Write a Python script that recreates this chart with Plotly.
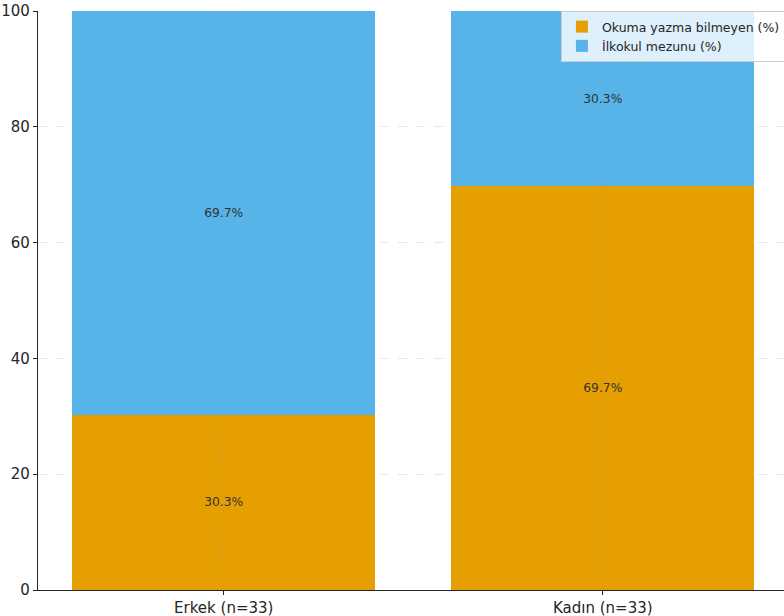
import plotly.graph_objects as go

categories = ["Erkek (n=33)", "Kadın (n=33)"]
illiterate = [30.3, 69.7]
primary = [69.7, 30.3]
series_names = ["Okuma yazma bilmeyen (%)", "İlkokul mezunu (%)"]
y_ticks = [0, 20, 40, 60, 80, 100]

FONT = "DejaVu Sans"
fig = go.Figure()
fig.add_trace(go.Bar(
    x=[0, 1], y=illiterate, name=series_names[0], marker=dict(color="#E69F00", line=dict(width=0)),
    text=[f"{v:.1f}%" for v in illiterate], textposition="inside", insidetextanchor="middle",
    textangle=0, textfont=dict(color="#333333", size=12.3, family=FONT), width=0.8,
))
fig.add_trace(go.Bar(
    x=[0, 1], y=primary, name=series_names[1], marker=dict(color="#56B4E9", line=dict(width=0)),
    text=[f"{v:.1f}%" for v in primary], textposition="inside", insidetextanchor="middle",
    textangle=0, textfont=dict(color="#333333", size=12.3, family=FONT), width=0.8,
))

# vertical category gridlines drawn over the bars
for xv in [0, 1]:
    fig.add_shape(type="line", xref="x", yref="paper", x0=xv, x1=xv, y0=0, y1=1,
                  line=dict(color="rgba(150,150,150,0.35)", width=1, dash="dot"), layer="above")

fig.update_layout(
    barmode="stack",
    width=784, height=616,
    margin=dict(l=38, r=0, t=11, b=26, autoexpand=False),
    paper_bgcolor="white", plot_bgcolor="white",
    font=dict(family=FONT, size=14, color="#262626"),
    showlegend=True,
    legend=dict(
        x=0.701, y=1.0, xanchor="left", yanchor="top",
        bgcolor="rgba(255,255,255,0.8)", bordercolor="#cccccc", borderwidth=1,
        font=dict(size=12.5, family=FONT, color="#262626"), traceorder="normal",
        tracegroupgap=0, itemwidth=30,
    ),
)
fig.update_xaxes(
    range=[-0.49, 1.478], tickmode="array", tickvals=[0, 1], ticktext=categories,
    showline=True, linecolor="#262626", linewidth=1.2,
    ticks="outside", ticklen=4, tickcolor="#262626",
    showgrid=False, automargin=False,
    zeroline=False, tickfont=dict(size=15),
)
fig.update_yaxes(
    range=[0, 100], tickmode="array", tickvals=y_ticks,
    showline=True, linecolor="#262626", linewidth=1.2,
    ticks="outside", ticklen=4, tickcolor="#262626",
    showgrid=True, gridcolor="rgba(176,176,176,0.3)", griddash="dash", gridwidth=1,
    automargin=False, zeroline=False, tickfont=dict(size=15),
)

fig.write_html("out.html", config={"displayModeBar": False},
               post_script="document.body.style.margin='0';")
